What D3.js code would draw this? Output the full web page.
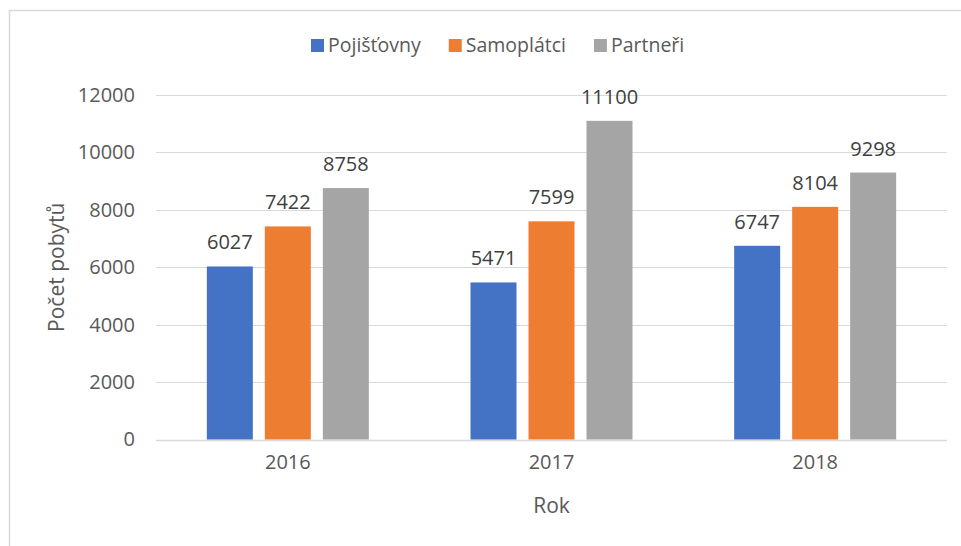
<!DOCTYPE html>
<html>
<head>
<meta charset="utf-8">
<script src="https://cdn.jsdelivr.net/npm/d3@7/dist/d3.min.js"></script>
<style>
  html, body { margin: 0; padding: 0; background: #fff; }
  svg { display: block; }
  text { font-family: "Open Sans", "Noto Sans", sans-serif; }
</style>
</head>
<body>
<svg id="chart" width="961" height="546"></svg>
<script>
const categories = ["2016", "2017", "2018"];
const seriesNames = ["Pojišťovny", "Samoplátci", "Partneři"];
const pojistovny = [6027, 5471, 6747];
const samoplatci = [7422, 7599, 8104];
const partneri = [8758, 11100, 9298];
const yTicks = [0, 2000, 4000, 6000, 8000, 10000, 12000];
const colors = ["#4472C4", "#ED7D31", "#A5A5A5"];
const yTitle = "Počet pobytů";
const xTitle = "Rok";

const seriesValues = [pojistovny, samoplatci, partneri];
const rows = categories.map((c, i) => ({
  cat: c,
  vals: seriesNames.map((s, j) => ({ series: s, value: seriesValues[j][i], color: colors[j] }))
}));

const svg = d3.select("#chart");

// outer chart border
svg.append("rect")
  .attr("x", 9.5).attr("y", 10.5)
  .attr("width", 1000).attr("height", 1000)
  .attr("fill", "none").attr("stroke", "#D9D9D9").attr("stroke-width", 1.5);

const plot = { left: 156, right: 947, top: 95, bottom: 439.5 };

const y = d3.scaleLinear().domain([0, 12000]).range([plot.bottom, plot.top]);
const x = d3.scaleBand().domain(categories).range([plot.left, plot.right]);
const xs = d3.scaleBand().domain(seriesNames).range([-81, 81]).paddingInner(12 / 58);

// gridlines
svg.append("g").selectAll("line").data(yTicks).join("line")
  .attr("x1", plot.left).attr("x2", plot.right)
  .attr("y1", d => Math.round(y(d)) + 0.5).attr("y2", d => Math.round(y(d)) + 0.5)
  .attr("stroke", "#D9D9D9").attr("stroke-width", d => d === 0 ? 1.5 : 1.2);

// y axis tick labels
const yAxis = d3.axisLeft(y).tickValues(yTicks).tickSize(0).tickPadding(0).tickFormat(d3.format("d"));
const gy = svg.append("g").attr("transform", `translate(135,0)`).call(yAxis);
gy.select(".domain").remove();
gy.selectAll("text").attr("fill", "#595959").style("font-size", "20px")
  .style("font-family", '"Open Sans", sans-serif');

// x axis labels
const xAxis = d3.axisBottom(x).tickSize(0).tickPadding(0);
const gx = svg.append("g").attr("transform", `translate(0,455)`).call(xAxis);
gx.select(".domain").remove();
gx.selectAll("text").attr("fill", "#595959").style("font-size", "20px")
  .style("font-family", '"Open Sans", sans-serif');

// bars
const groups = svg.append("g").selectAll("g").data(rows).join("g")
  .attr("transform", d => `translate(${x(d.cat) + x.bandwidth() / 2},0)`);

groups.selectAll("rect").data(d => d.vals).join("rect")
  .attr("x", d => xs(d.series))
  .attr("width", xs.bandwidth())
  .attr("y", d => y(d.value))
  .attr("height", d => y(0) - y(d.value))
  .attr("fill", d => d.color);

groups.selectAll("text.lbl").data(d => d.vals).join("text")
  .attr("class", "lbl")
  .attr("x", d => xs(d.series) + xs.bandwidth() / 2)
  .attr("y", d => y(d.value) - 17)
  .attr("text-anchor", "middle")
  .attr("fill", "#404040")
  .style("font-size", "20px")
  .text(d => d.value);

// axis titles
svg.append("text")
  .attr("transform", `translate(64,${(plot.top + plot.bottom) / 2}) rotate(-90)`)
  .attr("text-anchor", "middle")
  .attr("fill", "#595959").style("font-size", "21px")
  .text(yTitle);

svg.append("text")
  .attr("x", (plot.left + plot.right) / 2).attr("y", 513)
  .attr("text-anchor", "middle")
  .attr("fill", "#595959").style("font-size", "21px")
  .text(xTitle);

// legend
const legend = svg.append("g");
let lx = 311;
seriesNames.forEach((s, i) => {
  legend.append("rect").attr("x", lx).attr("y", 39).attr("width", 13).attr("height", 13).attr("fill", colors[i]);
  const t = legend.append("text").attr("x", lx + 17).attr("y", 52)
    .attr("fill", "#595959").style("font-size", "19.5px").text(s);
  lx += 17 + t.node().getComputedTextLength() + 28;
});
</script>
</body>
</html>
